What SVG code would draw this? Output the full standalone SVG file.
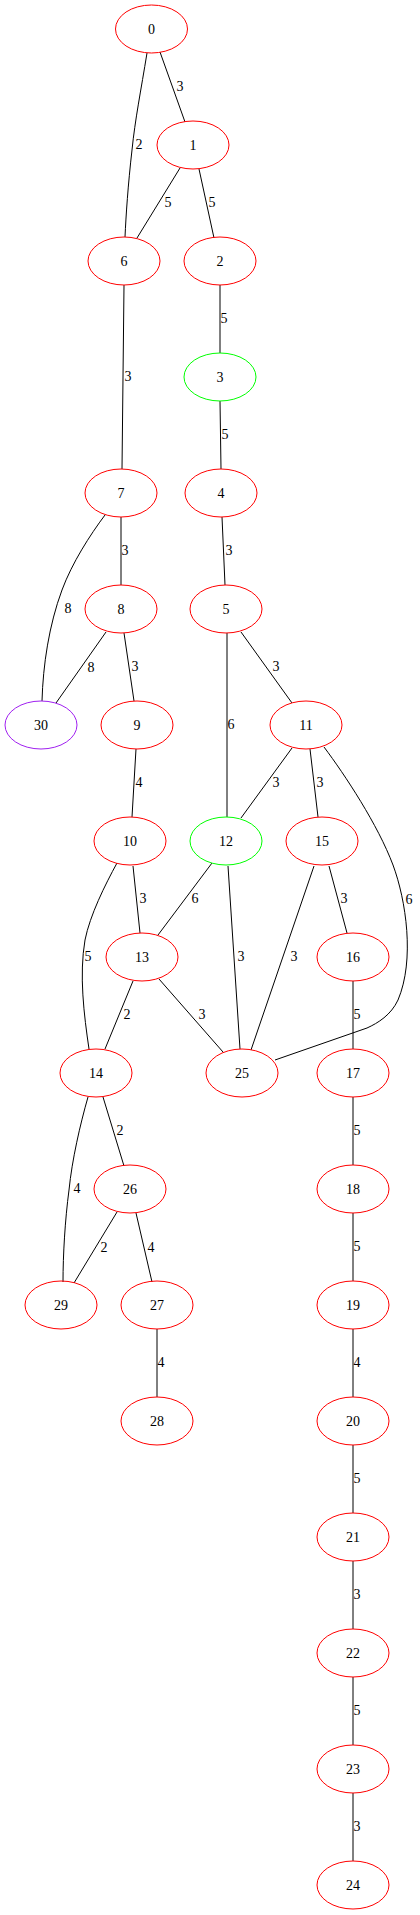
<svg xmlns="http://www.w3.org/2000/svg" width="420" height="1915" viewBox="0 0 420 1915">
<style>
.n ellipse{fill:none;stroke:#ff0000;stroke-width:1}
.n.g ellipse{stroke:#00ff00}
.n.p ellipse{stroke:#a020f0}
text{font-family:"Liberation Serif","Times New Roman",serif;font-size:14px;fill:#000;text-anchor:middle}
#edges path{fill:none;stroke:#000;stroke-width:1}
</style>
<rect width="420" height="1915" fill="#fff"/>
<g id="edges">
<path d="M160,52 L185,122"/><text x="180" y="91">3</text>
<path d="M147,53 C141,90 135,120 132,150 C128,185 126,215 125,237"/><text x="139" y="149">2</text>
<path d="M180,168 L137,238"/><text x="168" y="207">5</text>
<path d="M199,169 L214,238"/><text x="212" y="207">5</text>
<path d="M220,285 L220,353"/><text x="224" y="323">5</text>
<path d="M124,285 L122,469"/><text x="128" y="381">3</text>
<path d="M220,401 L221,469"/><text x="225" y="439">5</text>
<path d="M121,517 L121,585"/><text x="125" y="555">3</text>
<path d="M105,515 C90,535 72,563 62,590 C49,625 43,665 42,701"/><text x="68" y="613">8</text>
<path d="M222,517 L225,585"/><text x="229" y="555">3</text>
<path d="M106,632 L56,703"/><text x="91" y="672">8</text>
<path d="M124,633 L134,701"/><text x="135" y="671">3</text>
<path d="M227,633 L227,817"/><text x="231" y="729">6</text>
<path d="M241,632 L292,703"/><text x="276" y="671">3</text>
<path d="M136,749 L132,817"/><text x="139" y="787">4</text>
<path d="M292,748 L241,818"/><text x="276" y="787">3</text>
<path d="M310,749 L318,817"/><text x="320" y="787">3</text>
<path d="M324,747 C345,775 378,825 393,865 C406,900 415,960 398,1000 C391,1015 378,1023 367,1028 L275,1060"/><text x="409" y="904">6</text>
<path d="M212,863 L158,935"/><text x="195" y="903">6</text>
<path d="M228,866 L240,1049"/><text x="241" y="961">3</text>
<path d="M314,866 L251,1050"/><text x="294" y="961">3</text>
<path d="M329,866 L347,933"/><text x="344" y="903">3</text>
<path d="M133,866 L140,933"/><text x="143" y="903">3</text>
<path d="M117,863 C105,885 90,915 85,940 C79,975 84,1015 89,1049"/><text x="88" y="961">5</text>
<path d="M353,981 L353,1049"/><text x="357" y="1019">5</text>
<path d="M133,981 L105,1049"/><text x="127" y="1019">2</text>
<path d="M159,979 L223,1052"/><text x="202" y="1019">3</text>
<path d="M103,1097 L124,1166"/><text x="120" y="1135">2</text>
<path d="M88,1097 C80,1125 72,1160 69,1190 C65,1220 63,1255 63,1282"/><text x="77" y="1193">4</text>
<path d="M353,1097 L353,1165"/><text x="357" y="1135">5</text>
<path d="M117,1212 L74,1283"/><text x="104" y="1252">2</text>
<path d="M136,1213 L152,1282"/><text x="151" y="1252">4</text>
<path d="M353,1213 L353,1281"/><text x="357" y="1251">5</text>
<path d="M157,1329 L157,1397"/><text x="161" y="1367">4</text>
<path d="M353,1329 L353,1397"/><text x="357" y="1367">4</text>
<path d="M353,1445 L353,1513"/><text x="357" y="1483">5</text>
<path d="M353,1561 L353,1629"/><text x="357" y="1599">3</text>
<path d="M353,1677 L353,1745"/><text x="357" y="1715">5</text>
<path d="M353,1793 L353,1861"/><text x="357" y="1831">3</text>
</g>
<g id="n0" class="n"><ellipse cx="151.5" cy="29" rx="36" ry="24"/><text x="151.5" y="34">0</text></g>
<g id="n1" class="n"><ellipse cx="193" cy="145" rx="36" ry="24"/><text x="193" y="150">1</text></g>
<g id="n6" class="n"><ellipse cx="124" cy="261" rx="36" ry="24"/><text x="124" y="266">6</text></g>
<g id="n2" class="n"><ellipse cx="220" cy="261" rx="36" ry="24"/><text x="220" y="266">2</text></g>
<g id="n3" class="n g"><ellipse cx="220" cy="377" rx="36" ry="24"/><text x="220" y="382">3</text></g>
<g id="n7" class="n"><ellipse cx="121" cy="493" rx="36" ry="24"/><text x="121" y="498">7</text></g>
<g id="n4" class="n"><ellipse cx="221" cy="493" rx="36" ry="24"/><text x="221" y="498">4</text></g>
<g id="n8" class="n"><ellipse cx="121" cy="609" rx="36" ry="24"/><text x="121" y="614">8</text></g>
<g id="n5" class="n"><ellipse cx="226" cy="609" rx="36" ry="24"/><text x="226" y="614">5</text></g>
<g id="n30" class="n p"><ellipse cx="41" cy="725" rx="36" ry="24"/><text x="41" y="730">30</text></g>
<g id="n9" class="n"><ellipse cx="137" cy="725" rx="36" ry="24"/><text x="137" y="730">9</text></g>
<g id="n11" class="n"><ellipse cx="306" cy="725" rx="36" ry="24"/><text x="306" y="730">11</text></g>
<g id="n10" class="n"><ellipse cx="130" cy="841" rx="36" ry="24"/><text x="130" y="846">10</text></g>
<g id="n12" class="n g"><ellipse cx="226" cy="841" rx="36" ry="24"/><text x="226" y="846">12</text></g>
<g id="n15" class="n"><ellipse cx="322" cy="841" rx="36" ry="24"/><text x="322" y="846">15</text></g>
<g id="n13" class="n"><ellipse cx="142" cy="957" rx="36" ry="24"/><text x="142" y="962">13</text></g>
<g id="n16" class="n"><ellipse cx="353" cy="957" rx="36" ry="24"/><text x="353" y="962">16</text></g>
<g id="n14" class="n"><ellipse cx="96" cy="1073" rx="36" ry="24"/><text x="96" y="1078">14</text></g>
<g id="n25" class="n"><ellipse cx="242" cy="1073" rx="36" ry="24"/><text x="242" y="1078">25</text></g>
<g id="n17" class="n"><ellipse cx="353" cy="1073" rx="36" ry="24"/><text x="353" y="1078">17</text></g>
<g id="n26" class="n"><ellipse cx="130" cy="1189" rx="36" ry="24"/><text x="130" y="1194">26</text></g>
<g id="n18" class="n"><ellipse cx="353" cy="1189" rx="36" ry="24"/><text x="353" y="1194">18</text></g>
<g id="n29" class="n"><ellipse cx="61" cy="1305" rx="36" ry="24"/><text x="61" y="1310">29</text></g>
<g id="n27" class="n"><ellipse cx="157" cy="1305" rx="36" ry="24"/><text x="157" y="1310">27</text></g>
<g id="n19" class="n"><ellipse cx="353" cy="1305" rx="36" ry="24"/><text x="353" y="1310">19</text></g>
<g id="n28" class="n"><ellipse cx="157" cy="1421" rx="36" ry="24"/><text x="157" y="1426">28</text></g>
<g id="n20" class="n"><ellipse cx="353" cy="1421" rx="36" ry="24"/><text x="353" y="1426">20</text></g>
<g id="n21" class="n"><ellipse cx="353" cy="1537" rx="36" ry="24"/><text x="353" y="1542">21</text></g>
<g id="n22" class="n"><ellipse cx="353" cy="1653" rx="36" ry="24"/><text x="353" y="1658">22</text></g>
<g id="n23" class="n"><ellipse cx="353" cy="1769" rx="36" ry="24"/><text x="353" y="1774">23</text></g>
<g id="n24" class="n"><ellipse cx="353" cy="1885" rx="36" ry="24"/><text x="353" y="1890">24</text></g>
</svg>
